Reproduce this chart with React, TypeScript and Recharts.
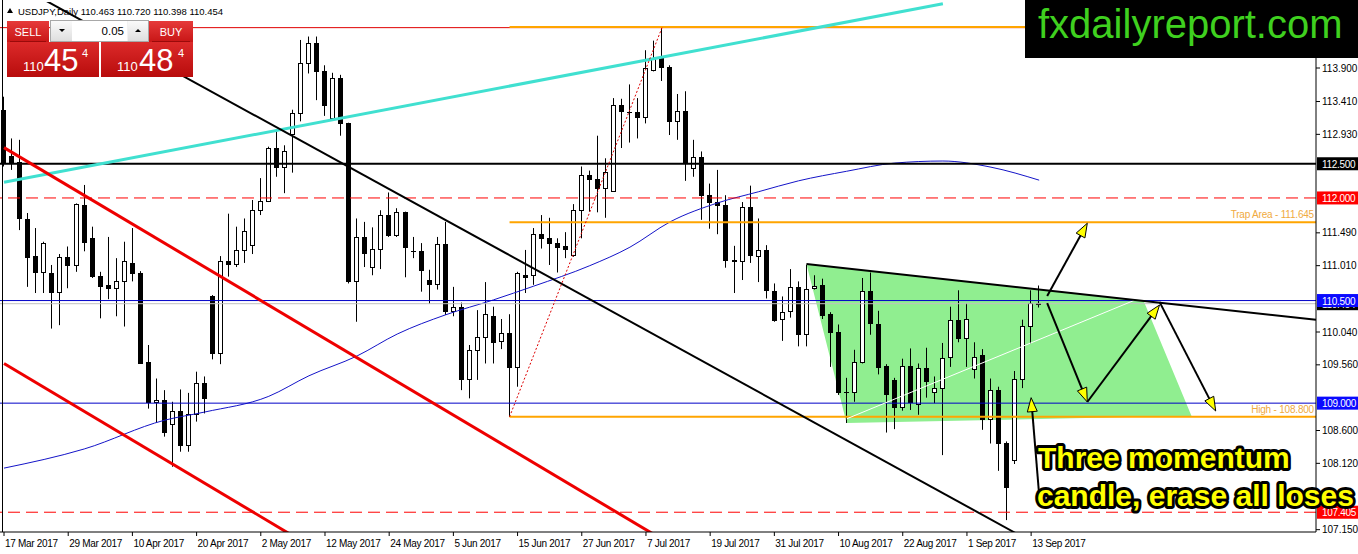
import React from 'react';
import { ComposedChart, Bar, Line, Area, XAxis, YAxis, ReferenceLine } from 'recharts';

const FONT = '"Liberation Sans", Arial, sans-serif';

const dateLabels = ['17 Mar 2017', '29 Mar 2017', '10 Apr 2017', '20 Apr 2017', '2 May 2017', '12 May 2017', '24 May 2017', '5 Jun 2017', '15 Jun 2017', '27 Jun 2017', '7 Jul 2017', '19 Jul 2017', '31 Jul 2017', '10 Aug 2017', '22 Aug 2017', '1 Sep 2017', '13 Sep 2017'];

const opens = [113.29, 112.61, 112.53, 111.69, 111.15, 110.92, 110.90, 110.63, 111.13, 111.02, 111.90, 111.41, 110.86, 110.73, 110.68, 110.78, 111.05, 110.91, 109.60, 109.02, 109.05, 108.70, 108.89, 108.39, 108.84, 109.29, 110.56, 109.74, 111.08, 111.03, 111.24, 111.31, 111.82, 111.96, 112.73, 112.45, 112.94, 113.24, 113.97, 114.26, 113.85, 113.17, 113.76, 113.09, 110.78, 111.43, 110.99, 111.26, 111.75, 111.46, 111.79, 111.23, 111.22, 110.80, 110.74, 111.32, 110.34, 110.41, 109.36, 109.78, 109.96, 110.27, 109.91, 110.02, 109.53, 110.88, 110.87, 111.48, 111.42, 111.34, 111.30, 111.17, 111.82, 112.33, 112.27, 112.15, 112.10, 113.36, 113.26, 113.25, 113.19, 113.87, 114.04, 113.92, 113.13, 113.27, 112.44, 112.60, 112.05, 111.94, 111.90, 111.10, 111.08, 111.87, 111.15, 111.24, 110.64, 110.23, 110.34, 110.70, 110.01, 110.68, 110.73, 110.30, 110.04, 109.16, 109.16, 109.60, 110.64, 110.15, 109.55, 109.34, 108.95, 109.54, 108.99, 109.52, 109.16, 109.22, 109.67, 110.21, 109.95, 109.50, 109.70, 108.77, 109.19, 108.41, 108.17, 109.36, 110.13, 110.463];
const highs = [113.48, 112.87, 112.85, 111.78, 111.56, 111.36, 111.02, 111.18, 111.29, 111.92, 112.19, 111.58, 110.92, 111.43, 111.12, 111.36, 111.56, 110.93, 109.85, 109.36, 109.19, 109.02, 109.20, 109.15, 109.46, 109.39, 110.58, 111.15, 111.77, 111.58, 111.70, 111.97, 112.29, 112.75, 112.99, 112.77, 113.29, 114.31, 114.36, 114.36, 113.94, 113.83, 113.80, 113.10, 111.70, 111.65, 111.57, 111.82, 112.08, 111.85, 111.80, 111.43, 111.34, 110.95, 111.43, 111.65, 110.70, 110.47, 109.85, 110.36, 110.77, 110.41, 110.23, 110.30, 110.92, 111.24, 111.56, 111.75, 111.71, 111.41, 111.50, 111.91, 112.46, 112.40, 112.91, 112.58, 113.46, 113.45, 113.66, 113.46, 114.16, 114.30, 114.49, 113.94, 113.52, 113.56, 112.85, 112.68, 112.21, 112.41, 112.04, 111.30, 111.94, 112.18, 111.70, 111.31, 110.75, 110.56, 110.96, 110.78, 111.02, 110.87, 110.82, 110.33, 110.15, 109.37, 109.78, 110.83, 110.91, 110.35, 109.57, 109.37, 109.65, 109.80, 109.58, 109.81, 109.39, 109.88, 110.41, 110.65, 110.46, 109.89, 109.79, 109.36, 109.24, 108.44, 109.47, 110.22, 110.65, 110.720];
const lows = [112.46, 112.41, 111.53, 110.70, 110.61, 110.61, 110.09, 110.14, 110.68, 110.92, 111.22, 110.83, 110.24, 110.52, 110.27, 110.12, 110.78, 109.58, 108.92, 108.71, 108.51, 108.07, 108.29, 108.29, 108.73, 108.85, 109.64, 109.57, 110.85, 110.99, 111.05, 111.18, 111.75, 111.94, 112.31, 112.07, 112.37, 113.12, 113.82, 113.43, 113.20, 113.14, 112.91, 110.75, 110.19, 110.99, 110.87, 110.96, 111.43, 111.43, 110.84, 111.12, 110.63, 110.45, 110.66, 110.29, 110.27, 109.19, 109.07, 109.34, 109.58, 109.58, 109.79, 108.80, 109.24, 110.61, 110.73, 111.26, 111.02, 110.91, 111.12, 111.14, 111.41, 111.80, 111.79, 111.71, 112.09, 112.73, 112.81, 112.87, 113.09, 113.85, 113.71, 112.92, 112.85, 112.25, 112.31, 111.68, 111.55, 111.47, 110.98, 110.61, 110.80, 111.05, 110.77, 110.53, 110.19, 109.91, 110.25, 109.83, 109.83, 110.66, 110.23, 109.53, 109.12, 108.71, 109.02, 109.58, 110.00, 109.42, 108.57, 108.62, 108.89, 108.90, 108.83, 109.08, 109.00, 108.24, 109.53, 109.89, 109.53, 109.36, 108.61, 108.41, 108.01, 107.29, 108.11, 109.22, 109.87, 110.398];
const closes = [112.52, 112.53, 111.70, 111.14, 110.92, 111.34, 110.63, 111.13, 111.02, 111.91, 111.36, 110.86, 110.71, 110.68, 110.78, 111.08, 110.91, 109.59, 109.01, 109.05, 108.58, 108.88, 108.39, 108.84, 109.29, 109.07, 109.74, 111.08, 111.03, 111.24, 111.52, 111.82, 111.96, 112.73, 112.45, 112.69, 113.24, 113.97, 114.26, 113.85, 113.36, 113.76, 113.09, 110.78, 111.43, 111.20, 111.26, 111.75, 111.46, 111.79, 111.29, 111.22, 110.94, 110.74, 111.32, 110.34, 110.41, 109.36, 109.77, 109.96, 110.30, 109.90, 110.02, 109.53, 110.90, 110.85, 111.48, 111.42, 111.34, 111.29, 111.25, 111.82, 112.33, 112.27, 112.15, 112.38, 113.36, 113.27, 113.25, 113.19, 113.90, 114.04, 113.92, 113.13, 113.27, 112.51, 112.60, 112.05, 111.94, 111.90, 111.09, 111.08, 111.87, 111.17, 111.24, 110.66, 110.22, 110.33, 110.70, 110.01, 110.67, 110.72, 110.29, 110.04, 109.17, 109.17, 109.60, 110.64, 110.17, 109.53, 109.14, 108.95, 109.54, 109.01, 109.52, 109.33, 109.22, 109.66, 110.21, 109.95, 110.23, 109.68, 108.77, 109.19, 108.41, 107.78, 109.36, 110.13, 110.46, 110.454];

// moving average, read at a few candles
const maIndex = [0, 10, 20, 25, 33, 38, 44, 49, 55, 61, 66, 73, 78, 83, 89, 94, 99, 105, 111, 117, 123, 129];
const maValues = [108.05, 108.33, 108.75, 108.87, 109.10, 109.40, 109.69, 110.01, 110.29, 110.51, 110.71, 111.01, 111.28, 111.65, 111.93, 112.09, 112.25, 112.39, 112.51, 112.54, 112.45, 112.26];

// green triangle zone
const greenIndex = [100, 105, 142, 148];
const greenLow = [111.035, 108.71, 108.80, 108.81];
const greenHigh = [111.035, 110.97, 110.50, 108.81];

// visible price-scale ticks (the others sit under the coloured price boxes)
const yTicks = [113.9, 113.41, 112.93, 111.49, 111.01, 110.04, 109.56, 108.6, 108.12, 107.15];

const SLOTS = 164;
const Y_MIN = 107.116;
const Y_MAX = 114.865;

const priceLabels = [
  { y: 110.454, text: '110.454', bg: '#000000', line: '#c0c0c0', w: 1, dash: undefined as string | undefined },
  { y: 112.5, text: '112.500', bg: '#000000', line: '#000000', w: 2, dash: undefined },
  { y: 112.0, text: '112.000', bg: '#ff0000', line: '#ff0000', w: 1, dash: '12 6' },
  { y: 107.405, text: '107.405', bg: '#ff0000', line: '#ff0000', w: 1, dash: '12 6' },
  { y: 110.5, text: '110.500', bg: '#0a0aff', line: '#0000c8', w: 1, dash: undefined },
  { y: 109.0, text: '109.000', bg: '#0a0aff', line: '#0000c8', w: 1, dash: undefined },
];

const orangeLevels = [
  { y: 111.645, text: 'Trap Area - 111.645' },
  { y: 108.8, text: 'High - 108.800' },
  { y: 114.5, text: '' },
];
const orangeStart = 63;

const diagLines = [
  { from: [0, 112.23], to: [117, 114.84], color: '#40e0d0', w: 3, dash: undefined as string | undefined },
  { from: [0, 115.22], to: [126, 107.105], color: '#000000', w: 2, dash: undefined },
  { from: [0, 112.736], to: [81, 107.08], color: '#ee0000', w: 3, dash: undefined },
  { from: [0, 109.58], to: [36, 107.06], color: '#ee0000', w: 3, dash: undefined },
  { from: [63, 108.8], to: [82, 114.49], color: '#dd0000', w: 1, dash: '2 2' },
  { from: [105, 108.77], to: [141, 110.51], color: '#ffffff', w: 1, dash: undefined },
];
const triangleTop = { from: [100, 111.035], to: [163, 110.225] };

const arrows = [
  { from: [130, 110.567], to: [135, 111.63] },
  { from: [130, 110.464], to: [135, 109.017] },
  { from: [135, 109.017], to: [144, 110.435] },
  { from: [144, 110.48], to: [151, 108.885] },
  { from: [129, 107.657], to: [128, 109.08] },
];

const maMap = new Map<number, number>();
maIndex.forEach((k, j) => maMap.set(k, maValues[j]));
const greenMap = new Map<number, number[]>();
greenIndex.forEach((k, j) => greenMap.set(k, [greenLow[j], greenHigh[j]]));

const rows = Array.from({ length: SLOTS }, (_, i) => ({
  i,
  o: i < opens.length ? opens[i] : null,
  h: i < highs.length ? highs[i] : null,
  l: i < lows.length ? lows[i] : null,
  c: i < closes.length ? closes[i] : null,
  ma: maMap.has(i) ? maMap.get(i) : null,
  green: greenMap.has(i) ? greenMap.get(i) : null,
}));

function Candle(props: any) {
  const { x, y, width, height, payload } = props;
  if (!payload || payload.o == null || x == null) return <g />;
  const { o, h, l, c } = payload;
  const top = Math.min(y, y + height);
  const bottom = Math.max(y, y + height);
  const span = h - l;
  const toY = (p: number) => (span > 0 ? top + ((h - p) / span) * (bottom - top) : top);
  const cx = Math.floor(x + width / 2) + 0.5;
  const bTop = Math.round(toY(Math.max(o, c))) + 0.5;
  const bBot = Math.round(toY(Math.min(o, c))) + 0.5;
  const up = c >= o;
  return (
    <g>
      <line x1={cx} x2={cx} y1={top} y2={bottom} stroke="#000" strokeWidth={1} />
      <rect x={cx - 2} y={bTop} width={4} height={Math.max(bBot - bTop, 0.01)} fill={up ? '#fff' : '#000'} stroke="#000" strokeWidth={1} />
    </g>
  );
}

const renderDateTick = (p: any) => {
  const idx = Number(p.payload?.value);
  const label = idx % 8 === 0 ? dateLabels[idx / 8] : undefined;
  if (!label) return <g />;
  return (
    <g>
      <line x1={p.x} x2={p.x} y1={p.y - 6} y2={p.y - 2} stroke="#000" strokeWidth={1} />
      <text x={p.x + 1} y={p.y + 9} fontSize={10} fontFamily={FONT} fill="#000" letterSpacing={-0.3}>{label}</text>
    </g>
  );
};

const priceBox = (text: string, bg: string) => (props: any) => {
  const vb = props.viewBox || {};
  const x = (vb.x || 0) + (vb.width || 0) + 1;
  const y = vb.y || 0;
  return (
    <g>
      <rect x={x} y={y - 6.5} width={42} height={13} fill={bg} />
      <text x={x + 5} y={y + 4} fill="#fff" fontSize={10} fontFamily={FONT} letterSpacing={-0.3}>{text}</text>
    </g>
  );
};

const orangeLabel = (text: string) => (props: any) => {
  const vb = props.viewBox || {};
  return (
    <text x={(vb.x || 0) + (vb.width || 0) + 2} y={(vb.y || 0) - 4} textAnchor="end" fill="#f0aa40" fontSize={10} fontFamily={FONT} letterSpacing={-0.2}>{text}</text>
  );
};

const extendedLine = (color: string, w: number, ext: number) => (p: any) => {
  const slope = p.x2 !== p.x1 ? (p.y2 - p.y1) / (p.x2 - p.x1) : 0;
  return <line x1={p.x1} y1={p.y1} x2={p.x2 + ext} y2={p.y2 + slope * ext} stroke={color} strokeWidth={w} clipPath={p.clipPath} />;
};

const arrowShape = (p: any) => {
  const dx = p.x2 - p.x1;
  const dy = p.y2 - p.y1;
  const len = Math.hypot(dx, dy) || 1;
  const ux = dx / len;
  const uy = dy / len;
  const L = 14;
  const W = 5;
  const bx = p.x2 - ux * L;
  const by = p.y2 - uy * L;
  const pts = `${p.x2},${p.y2} ${bx - uy * W},${by + ux * W} ${bx + uy * W},${by - ux * W}`;
  return (
    <g>
      <line x1={p.x1} y1={p.y1} x2={bx + ux * 2} y2={by + uy * 2} stroke="#000" strokeWidth={2} />
      <polygon points={pts} fill="#ffff00" stroke="#000" strokeWidth={1} strokeLinejoin="round" />
    </g>
  );
};

export default function App() {
  return (
    <div style={{ position: 'absolute', left: 0, top: 0, width: 1358, height: 554, background: '#fff', overflow: 'hidden' }}>
      <ComposedChart width={1358} height={554} data={rows} margin={{ top: 2, right: 0, bottom: 0, left: 0 }} barCategoryGap="10%">
        <XAxis dataKey="i" type="category" interval={0} height={22} tickSize={4} tickMargin={2} tickLine={false} axisLine={{ stroke: '#000' }} tick={renderDateTick} />
        <YAxis orientation="right" type="number" width={42} domain={[Y_MIN, Y_MAX]} allowDataOverflow ticks={yTicks} interval={0} tickSize={4} tickMargin={2} tickLine={{ stroke: '#000' }} axisLine={{ stroke: '#000' }} tick={{ fontSize: 10, fill: '#000', fontFamily: FONT }} tickFormatter={(v: number) => v.toFixed(3)} />
        <Area dataKey={(d: any) => d.green} type="linear" connectNulls stroke="none" fill="#90ee90" fillOpacity={1} dot={false} activeDot={false} isAnimationActive={false} />
        <Bar dataKey={(d: any) => (d.o == null ? null : [d.l, d.h])} shape={(p: any) => <Candle {...p} />} isAnimationActive={false} />
        <Line dataKey="ma" type="monotone" connectNulls stroke="#1414c8" strokeWidth={1} dot={false} activeDot={false} isAnimationActive={false} />
        <ReferenceLine y={114.49} stroke="#e00000" strokeWidth={1} ifOverflow="visible" />
        {priceLabels.map((pl) => (
          <ReferenceLine key={pl.text} y={pl.y} stroke={pl.line} strokeWidth={pl.w} strokeDasharray={pl.dash} ifOverflow="visible" label={priceBox(pl.text, pl.bg)} />
        ))}
        {orangeLevels.map((ol) => (
          <ReferenceLine key={ol.y} segment={[{ x: orangeStart, y: ol.y }, { x: SLOTS - 1, y: ol.y }]} ifOverflow="visible" shape={extendedLine('#ffa500', 2, 4)} label={ol.text ? orangeLabel(ol.text) : undefined} />
        ))}
        {diagLines.map((d, k) => (
          <ReferenceLine key={'d' + k} segment={[{ x: d.from[0], y: d.from[1] }, { x: d.to[0], y: d.to[1] }]} stroke={d.color} strokeWidth={d.w} strokeDasharray={d.dash} ifOverflow="hidden" />
        ))}
        <ReferenceLine segment={[{ x: triangleTop.from[0], y: triangleTop.from[1] }, { x: triangleTop.to[0], y: triangleTop.to[1] }]} ifOverflow="visible" shape={extendedLine('#000', 2, 4)} />
        {arrows.map((a, k) => (
          <ReferenceLine key={'a' + k} segment={[{ x: a.from[0], y: a.from[1] }, { x: a.to[0], y: a.to[1] }]} ifOverflow="visible" shape={arrowShape} />
        ))}
      </ComposedChart>
      <svg width={1358} height={554} style={{ position: 'absolute', left: 0, top: 0, pointerEvents: 'none' }}>
        <defs>
          <linearGradient id="btnRed" x1="0" y1="0" x2="0" y2="1">
            <stop offset="0" stopColor="#e63a3a" />
            <stop offset="1" stopColor="#c81616" />
          </linearGradient>
          <linearGradient id="panelRed" x1="0" y1="0" x2="0" y2="1">
            <stop offset="0" stopColor="#dc2a2a" />
            <stop offset="1" stopColor="#b80c0c" />
          </linearGradient>
          <linearGradient id="greyBtn" x1="0" y1="0" x2="0" y2="1">
            <stop offset="0" stopColor="#fafafa" />
            <stop offset="1" stopColor="#dedede" />
          </linearGradient>
        </defs>
        <line x1={2.5} x2={2.5} y1={0} y2={532} stroke="#000" strokeWidth={1} />
        {/* header */}
        <polygon points="7,13 10,8 13,13" fill="#000" />
        <text x={18} y={15} fontSize={9.5} fontFamily={FONT} fill="#000">USDJPY,Daily  110.463 110.720 110.398 110.454</text>
        {/* trade panel */}
        <rect x={7} y={21} width={42} height={21} fill="url(#btnRed)" />
        <text x={28} y={35.5} textAnchor="middle" fontSize={11} fontFamily={FONT} fill="#fff">SELL</text>
        <rect x={50.5} y={20.5} width={98} height={21} fill="#f2f2f2" stroke="#a8a8a8" />
        <rect x={51} y={21} width={21} height={20} fill="url(#greyBtn)" />
        <polygon points="59,29 65,29 62,32" fill="#000" />
        <rect x={72} y={21} width={55} height={20} fill="#fff" />
        <text x={124} y={35} textAnchor="end" fontSize={11.5} fontFamily={FONT} fill="#000">0.05</text>
        <rect x={128} y={21} width={20} height={20} fill="url(#greyBtn)" />
        <polygon points="135,32 141,32 138,29" fill="#000" />
        <rect x={149} y={21} width={44} height={21} fill="url(#btnRed)" />
        <text x={171} y={35.5} textAnchor="middle" fontSize={11} fontFamily={FONT} fill="#fff">BUY</text>
        <line x1={10} x2={46} y1={41.5} y2={41.5} stroke="#9a0a0a" />
        <line x1={152} x2={190} y1={41.5} y2={41.5} stroke="#9a0a0a" />
        <rect x={7} y={42} width={92} height={35} fill="url(#panelRed)" />
        <rect x={101} y={42} width={92} height={35} fill="url(#panelRed)" />
        <text x={23} y={71} fontSize={13} fontFamily={FONT} fill="#fff">110</text>
        <text x={44} y={71} fontSize={31} fontFamily={FONT} fill="#fff">45</text>
        <text x={82} y={57} fontSize={11} fontFamily={FONT} fill="#fff">4</text>
        <text x={117} y={71} fontSize={13} fontFamily={FONT} fill="#fff">110</text>
        <text x={139} y={71} fontSize={31} fontFamily={FONT} fill="#fff">48</text>
        <text x={178} y={57} fontSize={11} fontFamily={FONT} fill="#fff">4</text>
        {/* watermark */}
        <rect x={1025} y={0} width={333} height={58} fill="#000" />
        <text x={1038} y={38} fontSize={40} fontFamily={FONT} fill="#3fd01f">fxdailyreport.com</text>
        {/* annotation */}
        <g fontFamily={FONT} fontWeight="bold" fontSize={30} fill="#ffff00" stroke="#000" strokeWidth={6} strokeLinejoin="round" style={{ paintOrder: 'stroke' }}>
          <text x={1038} y={468}>Three momentum</text>
          <text x={1037} y={506}>candle, erase all loses</text>
        </g>
      </svg>
    </div>
  );
}
